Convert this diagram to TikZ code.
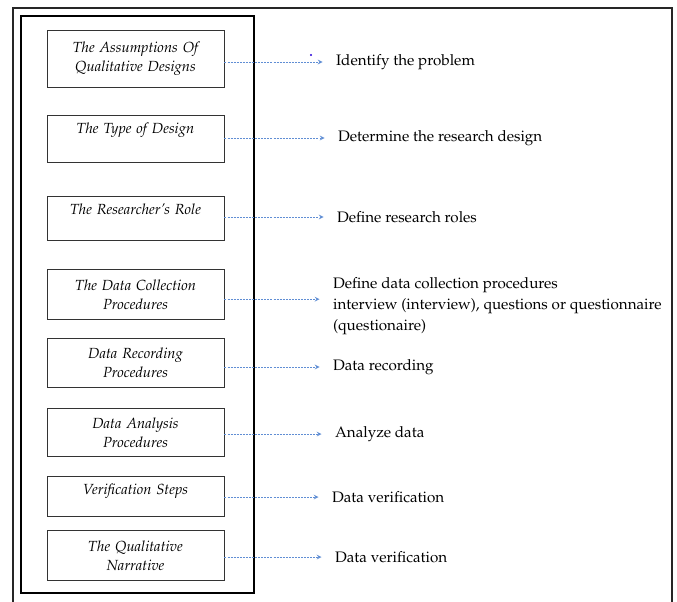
\documentclass[tikz,border=0pt]{standalone}
\usepackage[T1]{fontenc}
\usepackage{mathpazo}
\usepackage{xcolor}
\usepackage{tikz}
\usetikzlibrary{arrows,shapes}
\usetikzlibrary{positioning}

\definecolor{linkblue}{RGB}{96,142,212}
\tikzset{
  stage/.style={draw=black!80, line width=0.7pt, anchor=north,
    minimum width=132.75pt, text width=122pt, align=center,
    inner ysep=5pt, font=\fontsize{11}{14.5}\selectfont\itshape},
  note/.style={anchor=west, inner xsep=10pt, align=left,
    font=\fontsize{11.4}{15.5}\selectfont},
  link/.style={draw=linkblue, line width=0.6pt,
    dash pattern=on 1.5pt off 0.8pt, ->, >=stealth},
}

\begin{document}
\begin{tikzpicture}[x=0.75pt,y=-0.75pt]
\useasboundingbox (0,0) rectangle (677,602);

% page frame and the thick frame round the steps
\draw[line width=0.9pt, black!85] (13,602) -- (13,8) -- (672,8) -- (672,602);
\draw[line width=2.2pt] (21,16) rectangle (254,593);

% the eight steps
\node[stage, minimum height=42.75pt] at (135.5,30) (b1) {The Assumptions Of\\ Qualitative Designs};
\node[stage, minimum height=35.25pt, text depth=16.7pt] at (135.5,115) (b2) {The Type of Design};
\node[stage, minimum height=33pt, text depth=14.5pt] at (135.5,196) (b3) {The Researcher's Role};
\node[stage, minimum height=37.5pt] at (135.5,269) (b4) {The Data Collection\\ Procedures};
\node[stage, minimum height=36.75pt] at (135.5,338) (b5) {Data Recording\\ Procedures};
\node[stage, minimum height=36pt] at (135.5,408) (b6) {Data Analysis\\ Procedures};
\node[stage, minimum height=30pt, text depth=10.7pt] at (135.5,476) (b7) {Verification Steps};
\node[stage, minimum height=37.5pt] at (135.5,530) (b8) {The Qualitative\\ Narrative};

% what each step does
\node[note] at (322.5,62) (t1) {Identify the problem};
\node[note] at (324.5,138) (t2) {Determine the research design};
\node[note] at (323.5,217) (t3) {Define research roles};
\node[note] at (319.5,306) (t4) {Define data collection procedures\\
  interview (interview), questions or questionnaire\\ (questionaire)};
\node[note] at (319.5,367) (t5) {Data recording};
\node[note] at (321.5,434) (t6) {Analyze data};
\node[note] at (318.5,497) (t7) {Data verification};
\node[note] at (321.5,557) (t8) {Data verification};

\foreach \i in {1,2,3,5,6,7,8}
  \draw[link] (t\i.west -| b\i.east) -- (t\i.west);
\draw[link] ([yshift=-3.5pt]b4.east) -- ([yshift=-3.5pt]b4.east -| t4.west);

\fill[blue!70!violet] (311,55) circle (0.8pt);
\end{tikzpicture}
\end{document}
